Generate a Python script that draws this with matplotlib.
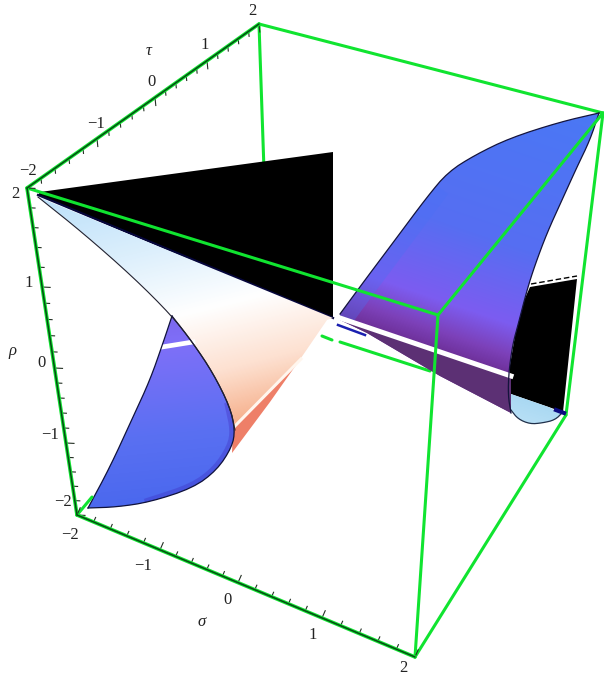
from __future__ import annotations

import matplotlib

matplotlib.use("Agg")
import matplotlib.pyplot as plt
import numpy as np
from matplotlib.colors import LinearSegmentedColormap
from matplotlib.patches import Polygon

W, H = 604, 683

# box corners, picture coordinates
corner_a = (259, 24)
corner_b = (27, 188)
corner_c = (77, 515)
corner_d = (415, 657)
corner_e = (603, 113)
corner_f = (438, 315)
corner_g = (566, 415)

GREEN = "#10e430"

tick_values = [-2, -1, 0, 1, 2]
# where the unit ticks sit along each axis: x for tau and sigma, y for rho
tau_major_x = [27, 97, 155, 207, 259]
rho_major_y = [188, 287, 368, 443, 515]
sigma_major_x = [77, 160, 238, 322, 415]

tau_labels = [(28, 171), (96, 124), (152, 82), (205, 45), (252, 11)]
rho_labels = [(15, 194), (29, 283), (42, 363), (50, 435), (63, 502)]
sigma_labels = [(70, 535), (143, 566), (228, 600), (313, 635), (403, 668)]

black_left = [(40, 192), (333, 152), (333, 317), (325, 317), (38, 195)]
black_right_edge = [(530, 287), (577, 279), (563, 412), (508, 393), (510, 365), (516, 330), (522, 305)]

sheet_left_curve = [(38, 197), (83, 233), (133, 277), (172, 316), (193, 343), (213, 373), (230, 407), (235, 430)]
sheet_right = [(327, 320), (301, 358), (233, 430)]

sliver = [(233, 428), (301, 358), (270, 402), (232, 453)]
white_line = [(233, 428), (301, 359)]

lobe_inner = [(172, 316), (193, 343), (213, 373), (230, 407), (235, 430), (232, 447), (217, 470), (193, 488), (150, 502), (117, 507), (88, 508)]
lobe_outer = [(88, 508), (110, 467), (133, 417), (150, 380), (163, 343), (172, 316)]
lobe_band = [(162, 347), (193, 342)]

wing_top = [(340, 314), (365, 280), (395, 240), (427, 197), (448, 172), (475, 155), (510, 138), (560, 122), (599, 113)]
wing_right = [(599, 113), (590, 140), (577, 167), (562, 200), (547, 233), (535, 265), (527, 290), (518, 325), (513, 343), (509, 370), (508, 395), (511, 413)]
wing_bottom = [(511, 413), (440, 376), (367, 333), (340, 320)]
wing_band = [(340, 318), (511, 376)]

foot = [(508, 393), (563, 412), (555, 420), (542, 423), (530, 424), (518, 419), (511, 410)]

# colour stops, position in gradient then colour
sheet_stops = [(0.0, "#b9dffa"), (0.3, "#dceffc"), (0.55, "#ffffff"), (0.78, "#fde0d0"), (1.0, "#f5a982")]
lobe_stops = [(0.0, "#7a64ea"), (0.2, "#7f6ff8"), (0.65, "#5a70f2"), (1.0, "#4a68ee")]
wing_stops = [(0.0, "#4a78f5"), (0.55, "#566ef2"), (0.82, "#7c5cf0"), (0.93, "#7c40b8"), (1.0, "#6c2f96")]
foot_stops = [(0.0, "#a9d8f2"), (1.0, "#cdeafb")]


def smooth(points, rounds=2):
    pts = np.asarray(points, dtype=float)
    for _ in range(rounds):
        q = 0.75 * pts[:-1] + 0.25 * pts[1:]
        r = 0.25 * pts[:-1] + 0.75 * pts[1:]
        mid = np.empty((q.shape[0] * 2, 2))
        mid[0::2] = q
        mid[1::2] = r
        pts = np.vstack([pts[0], mid, pts[-1]])
    return pts


def gradient_fill(ax, outline, stops, slope, t0, t1, zorder):
    # vertical colour ramp sheared by slope, clipped to the outline
    xx, yy = np.meshgrid(np.arange(W), np.arange(H))
    t = (yy - slope * xx - t0) / (t1 - t0)
    cmap = LinearSegmentedColormap.from_list("ramp", stops)
    img = ax.imshow(t, cmap=cmap, vmin=0, vmax=1, extent=(0, W, H, 0), interpolation="bilinear", zorder=zorder, aspect="auto")
    patch = Polygon(outline, closed=True, transform=ax.transData, fc="none", ec="none")
    ax.add_patch(patch)
    img.set_clip_path(patch)
    return patch


def segment(ax, a, b, color=GREEN, lw=2.2, zorder=5):
    ax.plot([a[0], b[0]], [a[1], b[1]], color=color, lw=lw, zorder=zorder, solid_capstyle="round")


def axis_ticks(ax, start, end, majors, along_y, normal, values=tick_values, zorder=9):
    fine = np.arange(-2, 2.01, 0.2)
    pos = np.interp(fine, values, majors)
    if along_y:
        ys = pos
        xs = start[0] + (end[0] - start[0]) * (ys - start[1]) / (end[1] - start[1])
    else:
        xs = pos
        ys = start[1] + (end[1] - start[1]) * (xs - start[0]) / (end[0] - start[0])
    for v, x, y in zip(fine, xs, ys):
        size = 8 if abs(v - round(v)) < 1e-6 else 5
        ax.plot([x, x + normal[0] * size], [y, y + normal[1] * size], color="#243024", lw=0.8, zorder=zorder)
    segment(ax, start, end, lw=2.6, zorder=zorder)
    segment(ax, start, end, color="#064a14", lw=1.1, zorder=zorder + 0.1)


def main() -> None:
    plt.rcParams["font.family"] = ["Liberation Serif", "DejaVu Serif"]
    fig = plt.figure(figsize=(W / 100, H / 100), dpi=100)
    ax = fig.add_axes([0, 0, 1, 1])
    ax.set_xlim(0, W)
    ax.set_ylim(H, 0)
    ax.axis("off")

    # hidden edges first
    segment(ax, corner_a, (264, 170), zorder=1)
    segment(ax, corner_a, corner_e, zorder=1)
    segment(ax, corner_c, (92, 497), zorder=6)
    segment(ax, (322, 336), (332, 340), zorder=1)
    segment(ax, (340, 342), (430, 371), zorder=1)
    segment(ax, corner_e, corner_g, zorder=1)
    segment(ax, corner_g, corner_d, zorder=1)

    ax.add_patch(Polygon(black_left, closed=True, fc="black", ec="none", zorder=2))
    ax.plot([38, 333], [195, 318], color="#06063c", lw=1.6, zorder=2.1)

    # pale sheet from the upper left corner
    sheet_outline = np.vstack([smooth(sheet_left_curve), sheet_right[::-1], [(333, 318), (38, 197)]])
    gradient_fill(ax, sheet_outline, sheet_stops, -0.25, 200, 490, 3)

    ax.add_patch(Polygon(sliver, closed=True, fc="#ee7f68", ec="none", zorder=3.2))
    ax.plot(*zip(*white_line), color="#fff6ee", lw=2.2, zorder=3.3)

    # lower left lobe
    inner = smooth(lobe_inner)
    outer = smooth(lobe_outer)
    lobe_patch = gradient_fill(ax, np.vstack([inner, outer]), lobe_stops, -0.1, 320, 520, 3.5)
    shade = smooth(lobe_inner[3:9])
    glow, = ax.plot(shade[:, 0], shade[:, 1], color="#3a22b8", lw=7, alpha=0.3, zorder=3.6)
    glow.set_clip_path(lobe_patch)
    ax.plot(*zip(*lobe_band), color="white", lw=3.4, zorder=3.7)
    ax.plot(outer[:, 0], outer[:, 1], color="#10123c", lw=0.9, zorder=3.8)
    ax.plot(inner[:, 0], inner[:, 1], color="#10123c", lw=0.9, zorder=3.8)
    curve = smooth(sheet_left_curve)
    ax.plot(curve[:, 0], curve[:, 1], color="#222230", lw=0.8, zorder=3.9)

    # black panel behind the right wing, with its pale foot
    ax.add_patch(Polygon(black_right_edge, closed=True, fc="black", ec="none", zorder=2))
    ax.plot([531, 577], [284, 276], color="black", lw=1.0, ls=(0, (4, 2)), zorder=2)
    gradient_fill(ax, smooth(foot, 1), foot_stops, 0.3, 240, 300, 2.4)
    foot_curve = smooth(foot[1:], 2)
    ax.plot(foot_curve[:, 0], foot_curve[:, 1], color="#20304a", lw=0.9, zorder=2.5)
    ax.plot([556, 564], [410, 413], color="#0a0a80", lw=3, zorder=2.5)

    # right wing
    top = smooth(wing_top)
    right = smooth(wing_right)
    wing_outline = np.vstack([top, right, wing_bottom[1:]])
    wing_patch = gradient_fill(ax, wing_outline, wing_stops, 0.34, -90, 203, 3)
    rim, = ax.plot(*zip(*wing_top[:4]), color="#4a70f5", lw=22, alpha=0.35, zorder=3.05)
    rim.set_clip_path(wing_patch)
    under = np.vstack([[wing_band[0]], [wing_band[1]], wing_bottom])
    ax.add_patch(Polygon(under, closed=True, fc="#5c3074", ec="none", zorder=3.1))
    ax.plot(*zip(*wing_band), color="white", lw=3.6, zorder=3.2)
    for piece in (top, right):
        ax.plot(piece[:, 0], piece[:, 1], color="#14143c", lw=0.9, zorder=3.3)
    ax.plot([338, 365], [325, 335], color="#1a20b0", lw=1.8, zorder=3.3)

    # front edges drawn over the surfaces
    segment(ax, corner_b, corner_f, zorder=6)
    segment(ax, corner_f, corner_e, zorder=6)
    segment(ax, corner_f, corner_d, zorder=6)

    axis_ticks(ax, corner_b, corner_a, tau_major_x, False, (0.1, 1))
    axis_ticks(ax, corner_b, corner_c, rho_major_y[::-1], True, (1, 0.05))
    axis_ticks(ax, corner_c, corner_d, sigma_major_x, False, (0.4, -0.9))

    for positions, texts in ((tau_labels, tick_values), (rho_labels, tick_values[::-1]), (sigma_labels, tick_values)):
        for (x, y), v in zip(positions, texts):
            label = f"\u2212{abs(v)}" if v < 0 else str(v)
            ax.text(x, y, label, fontsize=12, ha="center", va="center", color="#222222", zorder=10)
    ax.text(149, 51, "\u03c4", fontsize=12, style="italic", ha="center", va="center", color="#222222")
    ax.text(12, 351, "\u03c1", fontsize=12, style="italic", ha="center", va="center", color="#222222")
    ax.text(202, 622, "\u03c3", fontsize=12, style="italic", ha="center", va="center", color="#222222")

    fig.savefig("out.png", dpi=100)


if __name__ == "__main__":
    main()
